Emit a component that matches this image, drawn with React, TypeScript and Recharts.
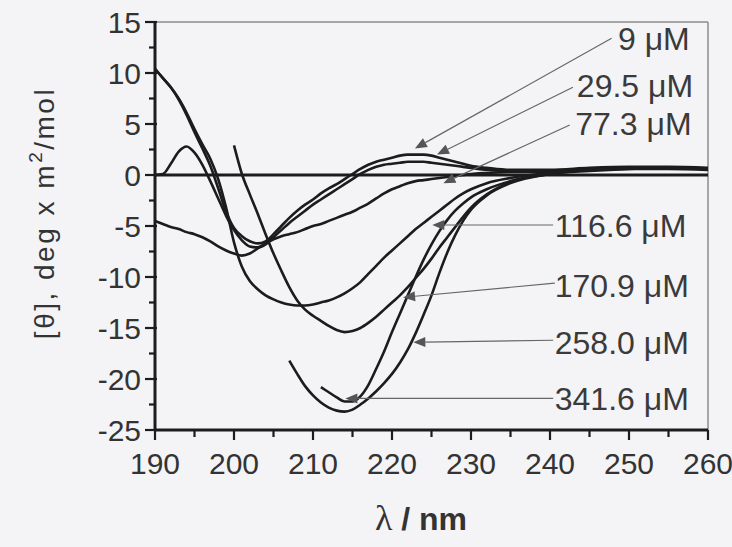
import { LineChart, Line, XAxis, YAxis, ReferenceLine, ReferenceDot } from 'recharts'

// wavelength grid, nm
const wavelength = [
  190, 191, 192, 193, 194, 195, 196, 197, 198, 199,
  200, 201, 202, 203, 204, 205, 206, 207, 208, 209,
  210, 211, 212, 213, 214, 215, 216, 217, 218, 219,
  220, 221, 222, 223, 224, 225, 226, 227, 228, 229,
  230, 232, 235, 240, 245, 250, 255, 260,
]

// molar ellipticity, one array per concentration
const c9 = [
  10.4, 9.5, 8.6, 7.4, 5.9, 4.2, 2.6, 0.9, -1.3, -3.6,
  -5.2, -6.0, -6.5, -6.7, -6.5, -5.8, -5.0, -4.2, -3.5, -2.9,
  -2.4, -1.8, -1.3, -0.9, -0.4, 0.1, 0.6, 1.0, 1.3, 1.5,
  1.7, 1.9, 2.0, 2.0, 2.0, 1.9, 1.7, 1.5, 1.3, 1.1,
  0.9, 0.7, 0.5, 0.5, 0.7, 0.8, 0.8, 0.7,
]
const c29 = [
  0.0, 0.1, 1.1, 2.3, 2.8, 2.2, 1.0, -0.6, -2.3, -4.0,
  -5.4, -6.4, -7.0, -7.1, -6.8, -6.1, -5.4, -4.7, -4.1, -3.5,
  -2.9, -2.4, -1.9, -1.4, -0.9, -0.4, 0.1, 0.5, 0.8, 1.0,
  1.1, 1.2, 1.3, 1.3, 1.3, 1.2, 1.1, 1.0, 0.9, 0.8,
  0.7, 0.5, 0.4, 0.4, 0.6, 0.7, 0.7, 0.6,
]
const c77 = [
  -4.5, -4.8, -5.1, -5.3, -5.6, -5.8, -6.1, -6.5, -7.0, -7.4,
  -7.7, -7.9, -7.7, -7.2, -6.7, -6.3, -6.0, -5.8, -5.6, -5.3,
  -5.0, -4.8, -4.5, -4.2, -3.9, -3.6, -3.2, -2.8, -2.3, -1.8,
  -1.4, -1.1, -0.8, -0.6, -0.5, -0.4, -0.3, -0.2, -0.1, 0.0,
  0.1, 0.2, 0.3, 0.3, 0.5, 0.6, 0.6, 0.5,
]
const c116 = [
  10.4, 9.5, 8.6, 7.5, 6.1, 4.5, 3.0, 1.6, -0.4, -3.2,
  -6.6, -9.0, -10.4, -11.2, -11.8, -12.2, -12.5, -12.7, -12.8, -12.8,
  -12.7, -12.5, -12.3, -12.0, -11.6, -11.1, -10.5, -9.7, -8.9, -8.1,
  -7.4, -6.7, -6.0, -5.3, -4.7, -4.1, -3.5, -2.9, -2.3, -1.8,
  -1.4, -0.8, -0.3, 0.2, 0.5, 0.7, 0.7, 0.6,
]
const c170 = [
  null, null, null, null, null, null, null, null, null, null,
  2.9, 0.1, -1.9, -3.8, -5.8, -7.7, -9.4, -11.0, -12.3, -13.2,
  -13.8, -14.3, -14.8, -15.2, -15.4, -15.3, -15.0, -14.5, -13.9, -13.2,
  -12.5, -11.8, -11.0, -10.1, -9.2, -8.2, -7.1, -6.1, -5.1, -4.1,
  -3.2, -1.9, -0.7, 0.1, 0.5, 0.7, 0.7, 0.6,
]
const c258 = [
  null, null, null, null, null, null, null, null, null, null,
  null, null, null, null, null, null, null, -18.2, -19.5, -20.7,
  -21.6, -22.3, -22.8, -23.1, -23.2, -23.0, -22.5, -21.9, -21.2, -20.4,
  -19.5, -18.4, -17.1, -15.5, -13.7, -11.8, -9.6, -7.6, -5.9, -4.5,
  -3.4, -2.0, -0.8, 0.1, 0.4, 0.6, 0.7, 0.6,
]
const c341 = [
  null, null, null, null, null, null, null, null, null, null,
  null, null, null, null, null, null, null, null, null, null,
  null, -20.8, -21.3, -21.8, -22.2, -22.2, -21.7, -20.6, -19.0, -17.3,
  -15.4, -13.6, -11.8, -10.0, -8.3, -6.8, -5.5, -4.4, -3.5, -2.8,
  -2.2, -1.4, -0.6, 0.2, 0.5, 0.7, 0.7, 0.6,
]

const xTicks = [190, 195, 200, 205, 210, 215, 220, 225, 230, 235, 240, 245, 250, 255, 260]
const yTicks = [-25, -22.5, -20, -17.5, -15, -12.5, -10, -7.5, -5, -2.5, 0, 2.5, 5, 7.5, 10, 12.5, 15]

// annotations, in data units: text start, arrow start, arrow tip
const labels = ['9 μM', '29.5 μM', '77.3 μM', '116.6 μM', '170.9 μM', '258.0 μM', '341.6 μM']
const labelX = [248.6, 243.4, 243.2, 240.6, 240.6, 240.6, 240.6]
const labelY = [13.4, 8.8, 5.1, -4.9, -10.8, -16.4, -21.9]
const fromX = [247.8, 242.9, 242.5, 240.4, 240.6, 240.4, 240.4]
const fromY = [13.4, 8.6, 4.9, -4.9, -10.6, -16.2, -21.9]
const tipX = [222.9, 225.7, 226.5, 225.1, 221.4, 222.7, 214.1]
const tipY = [2.6, 2.0, -0.8, -4.9, -12.0, -16.4, -21.9]

const series = [c9, c29, c77, c116, c170, c258, c341]

const rows = wavelength.map((w, i) => {
  const row: Record<string, number | null> = { w }
  series.forEach((s, k) => (row['s' + k] = s[i]))
  return row
})

const SANS = 'Liberation Sans, Arial, sans-serif'
const INK = '#1c1c1c'

function XTick({ x, y, payload }: any) {
  const major = payload.value % 10 === 0
  return (
    <g>
      <line x1={x} x2={x} y1={y} y2={y + (major ? 10 : 7)} stroke={INK} strokeWidth={2.2} />
      {major && (
        <text x={x} y={y + 44} textAnchor="middle" fontFamily={SANS} fontSize={30} fill="#333">
          {payload.value}
        </text>
      )}
    </g>
  )
}

function YTick({ x, y, payload }: any) {
  const major = payload.value % 5 === 0
  return (
    <g>
      <line x1={x - (major ? 10 : 6)} x2={x + (major ? 2 : 0)} y1={y} y2={y} stroke={INK} strokeWidth={2.2} />
      {major && (
        <text x={x - 14} y={y} dy="0.36em" textAnchor="end" fontFamily={SANS} fontSize={30} fill="#333">
          {payload.value}
        </text>
      )}
    </g>
  )
}

function Arrow({ x1, y1, x2, y2 }: any) {
  const a = Math.atan2(y2 - y1, x2 - x1)
  const len = 12
  const hw = 5
  const bx = x2 - len * Math.cos(a)
  const by = y2 - len * Math.sin(a)
  const px = -Math.sin(a) * hw
  const py = Math.cos(a) * hw
  return (
    <g>
      <line x1={x1} y1={y1} x2={bx} y2={by} stroke="#666" strokeWidth={1.2} />
      <polygon points={`${x2},${y2} ${bx + px},${by + py} ${bx - px},${by - py}`} fill="#555" />
    </g>
  )
}

function yTitle() {
  return (
    <text
      x={44}
      y={213}
      transform="rotate(-90, 44, 213)"
      textAnchor="middle"
      dy="0.35em"
      fontFamily={SANS}
      fontSize={28}
      letterSpacing={2.5}
      fill="#333"
    >
      [θ], deg x m<tspan fontSize={19} dy={-12}>2</tspan>
      <tspan dy={12}>/mol</tspan>
    </text>
  )
}

function xTitle() {
  return (
    <text x={421} y={530} textAnchor="middle" fill="#333">
      <tspan fontFamily="Liberation Serif, serif" fontSize={36}>λ</tspan>
      <tspan fontFamily={SANS} fontWeight="bold" fontSize={32}> / nm</tspan>
    </text>
  )
}

export default function App() {
  return (
    <div style={{ position: 'absolute', left: 0, top: 0, width: 732, height: 547, background: '#f4f3f6' }}>
      <LineChart width={732} height={547} data={rows} margin={{ top: 22, right: 24, bottom: 57, left: 75 }}>
        <XAxis
          dataKey="w"
          type="number"
          domain={[190, 260]}
          ticks={xTicks}
          interval={0}
          height={60}
          tickSize={0}
          tickMargin={0}
          tickLine={false}
          tick={<XTick />}
          axisLine={{ stroke: INK, strokeWidth: 3 }}
          label={xTitle}
        />
        <YAxis
          type="number"
          domain={[-25, 15]}
          ticks={yTicks}
          interval={0}
          width={80}
          tickSize={0}
          tickMargin={0}
          tickLine={false}
          tick={<YTick />}
          axisLine={{ stroke: INK, strokeWidth: 3 }}
          label={yTitle}
        />
        <ReferenceLine y={15} stroke="#8c8c8c" strokeWidth={1.5} />
        <ReferenceLine x={260} stroke="#8c8c8c" strokeWidth={1.5} />
        <ReferenceLine y={0} stroke={INK} strokeWidth={3} />
        {series.map((_, k) => (
          <Line
            key={k}
            dataKey={'s' + k}
            type="monotone"
            stroke={INK}
            strokeWidth={2.6}
            dot={false}
            activeDot={false}
            connectNulls={false}
            isAnimationActive={false}
          />
        ))}
        {labels.map((t, k) => (
          <ReferenceLine
            key={'a' + k}
            segment={[
              { x: fromX[k], y: fromY[k] },
              { x: tipX[k], y: tipY[k] },
            ]}
            shape={(p: any) => <Arrow {...p} />}
          />
        ))}
        {labels.map((t, k) => (
          <ReferenceDot
            key={'l' + k}
            x={labelX[k]}
            y={labelY[k]}
            r={0}
            shape={(p: any) => (
              <text x={p.cx} y={p.cy} dy="0.36em" fontFamily={SANS} fontSize={32} fill="#3a3a3a">
                {t}
              </text>
            )}
          />
        ))}
      </LineChart>
    </div>
  )
}
